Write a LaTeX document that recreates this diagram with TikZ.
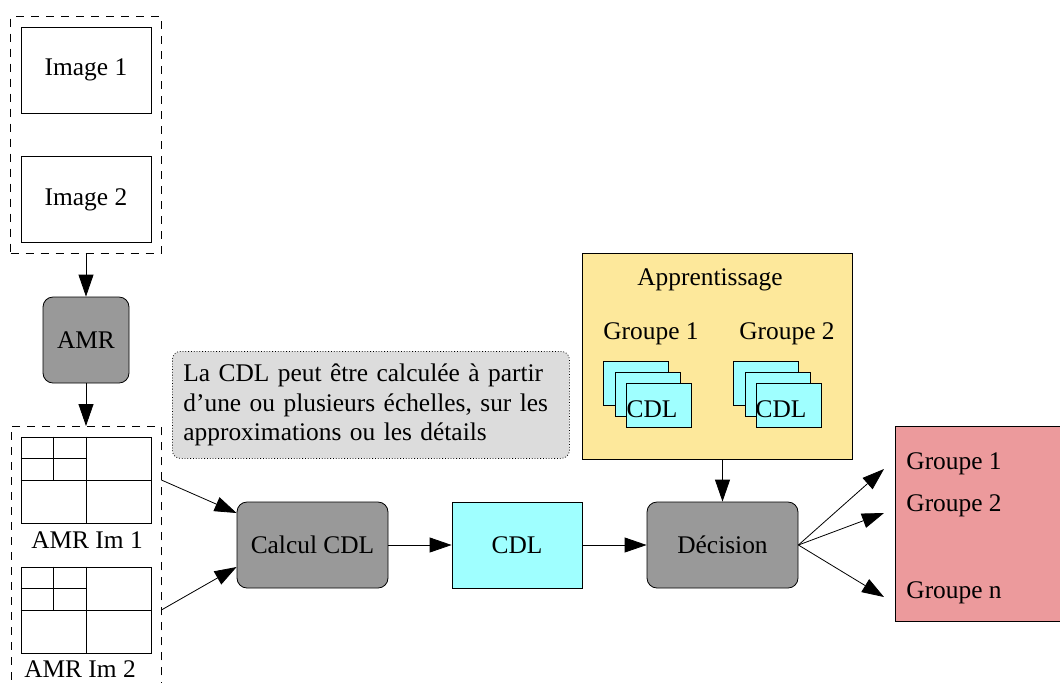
\documentclass[tikz,border=0pt]{standalone}
\usepackage{fontspec}
\setmainfont{LiberationSerif}[Extension=.ttf, UprightFont=*-Regular, BoldFont=*-Bold, ItalicFont=*-Italic]
\usepackage{xcolor}
\usetikzlibrary{arrows.meta,positioning,fit,calc}

\definecolor{procgris}{RGB}{153,153,153}
\definecolor{cdlcyan}{HTML}{9FFFFF}
\definecolor{apprjaune}{HTML}{FDE89B}
\definecolor{sortierouge}{HTML}{EC9A9C}
\definecolor{notegris}{HTML}{DCDCDC}

\begin{document}
\begin{tikzpicture}[
  x=0.5pt, y=-0.5pt,
  font=\rmfamily\fontsize{12.7}{14.8}\selectfont,
  imgbox/.style={draw, minimum width=65pt, minimum height=43pt},
  traitement/.style={draw, rounded corners=5pt, fill=procgris, minimum width=75.5pt, minimum height=43pt},
  enveloppe/.style={draw, dash pattern=on 4pt off 3.5pt},
  feuille/.style={draw, fill=cdlcyan, minimum width=32.5pt, minimum height=22pt, anchor=north west},
  note/.style={draw, densely dotted, rounded corners=4pt, fill=notegris, minimum width=198.5pt, minimum height=53.5pt, text width=187.5pt, align=left, inner xsep=5.5pt},
  arrow/.style={-{Triangle[length=11pt,width=7.5pt]}}
]
\useasboundingbox (0,0) rectangle (1060,682);
\node[imgbox] (img1) at (86,70) {Image 1};
\node[imgbox] (img2) at (86,199.5) {Image 2};
\node[enveloppe, fit=(img1)(img2), inner sep=5pt] (entree) {};
\node[traitement, minimum width=43pt] (amr) at (86,340) {AMR};
\draw[arrow] (entree) -- (amr);
\node[enveloppe, minimum width=75pt, minimum height=132pt, anchor=north] (amrs) at (86,426) {};
\draw[arrow] (amr) -- (amrs.north);
\node[imgbox] (amr1) at (86,480) {};
\node[imgbox] (amr2) at (86,610) {};
\foreach \g in {amr1,amr2} {
  \draw (\g.north) -- (\g.south) (\g.west) -- (\g.east);
  \draw ($(\g.north west)!.5!(\g.north)$) -- ($(\g.west)!.5!(\g.center)$)
        ($(\g.north west)!.5!(\g.west)$) -- ($(\g.north)!.5!(\g.center)$);
}
\node (amr1t) at (87,540) {AMR Im 1};
\node (amr2t) at (80,669) {AMR Im 2};
\node[note, anchor=north west] (info) at (172,351) {La CDL peut être calculée à partir\\d'une ou plusieurs échelles, sur les\\approximations ou les détails};
\node[traitement] (calc) at (312.5,545) {Calcul CDL};
\node[draw, fill=cdlcyan, minimum width=65pt, minimum height=43pt] (cdl) at (517,545) {CDL};
\node[traitement] (dec) at (722.5,545) {Décision};
\draw[arrow] (amrs.east |- amr1) -- ([yshift=16pt]calc.west);
\draw[arrow] (amrs.east |- amr2) -- ([yshift=-11pt]calc.west);
\draw[arrow] (calc) -- (cdl);
\draw[arrow] (cdl) -- (dec);
\node[draw, fill=apprjaune, minimum width=135pt, minimum height=103pt, anchor=north west] (appr) at (582,253) {};
\node (apprt) at (710,280) {Apprentissage};
\node (grp1t) at (651,334) {Groupe 1};
\node (grp2t) at (787,334) {Groupe 2};
\foreach \i in {0,1,2} {
  \node[feuille] (fa\i) at ($(603,361)+(\i*11.5,\i*11)$) {};
  \node[feuille] (fb\i) at ($(733,361)+(\i*11.5,\i*11)$) {};
}
\node (cdla) at (652,409) {CDL};
\node (cdlb) at (781,409) {CDL};
\draw[arrow] (appr.south -| dec.north) -- (dec.north);
\node[draw, fill=sortierouge, minimum width=83.5pt, minimum height=97.5pt, anchor=north west] (sortie) at (895,426) {};
\node[anchor=west, inner sep=0pt] (s1) at (906,464) {Groupe 1};
\node[anchor=west, inner sep=0pt] (s2) at (906,506) {Groupe 2};
\node[anchor=west, inner sep=0pt] (sn) at (906,593) {Groupe n};
\coordinate (t1) at (884,469);
\coordinate (t2) at (884,513);
\coordinate (tn) at (884,597);
\foreach \t in {t1,t2,tn}
  \draw[arrow] (dec.east) -- (\t);
\end{tikzpicture}
\end{document}
